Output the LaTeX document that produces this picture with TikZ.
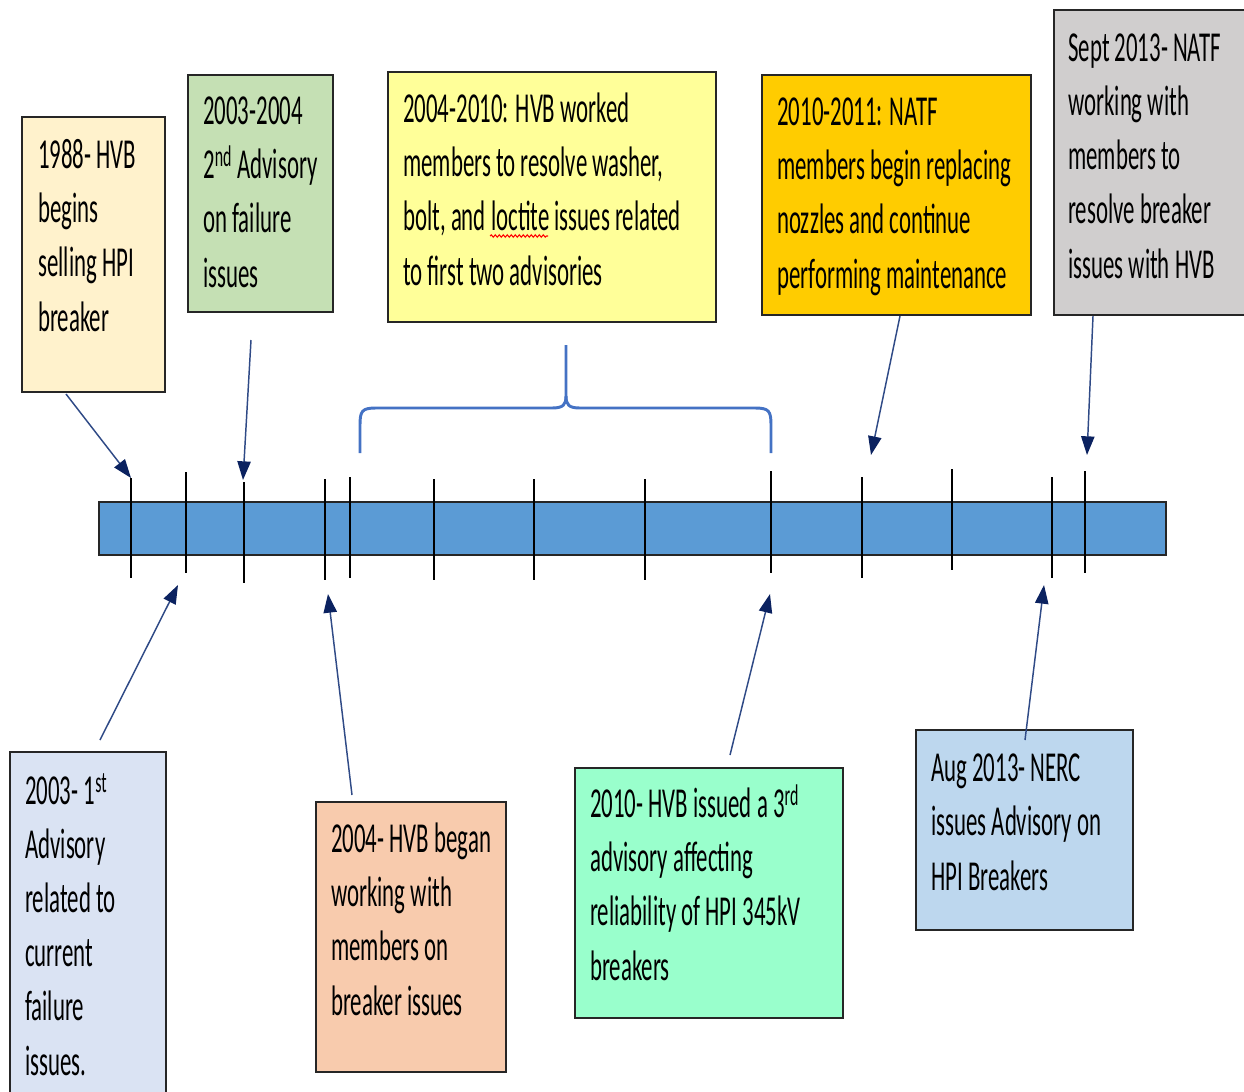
\documentclass[tikz,border=0pt]{standalone}
\usepackage{fontspec}
\newfontfamily\calf[FakeStretch=0.535]{Carlito}
\usetikzlibrary{arrows.meta,decorations.pathmorphing,fit}
\definecolor{barblue}{HTML}{5B9BD5}
\definecolor{bracecol}{HTML}{4472C4}
\definecolor{arrcol}{HTML}{2F4A86}
\definecolor{headcol}{HTML}{0B2260}
\definecolor{cA}{HTML}{FFF2CC}
\definecolor{cB}{HTML}{C5E0B4}
\definecolor{cC}{HTML}{FFFF99}
\definecolor{cD}{HTML}{FFCC00}
\definecolor{cE}{HTML}{D0CECE}
\definecolor{cF}{HTML}{DAE3F3}
\definecolor{cG}{HTML}{F8CBAD}
\definecolor{cH}{HTML}{99FFCC}
\definecolor{cI}{HTML}{BDD7EE}
\tikzset{
  evbox/.style={draw=black!85, line width=1.5pt, inner sep=0pt, rectangle},
  evtext/.style={inner sep=0pt, anchor=base west, align=left, text=black,
     font=\calf\fontsize{32}{40.6}\selectfont},
  tickline/.style={line width=1.9pt, black},
  evarrow/.style={draw=arrcol, line width=1.1pt,
     -{Triangle[length=14pt,width=10pt,fill=headcol,color=headcol]}},
  bracepath/.style={draw=bracecol, line width=2.2pt, line join=round}
}
\begin{document}
\begin{tikzpicture}[x=0.75pt,y=-0.75pt]
\useasboundingbox (0,0) rectangle (1244,1091);
\clip (0,0) rectangle (1244,1091);

% timeline bar
\node (bar) [evbox, fill=barblue, fit={(99,502) (1166,555)}] {};

% ticks
\foreach \x/\t/\b [count=\i] in {131/478/578, 186/472/573, 244/482/583, 325/479/580,
   350/477/578, 434/479/580, 534/479/580, 645/479/580, 771/471/573, 862/477/578,
   952/469/570, 1052/477/578, 1085/471/573}{
  \coordinate (t\i top) at (\x,\t);
  \coordinate (t\i bot) at (\x,\b);
  \draw[tickline] (t\i top) -- (t\i bot);
}

% boxes
\node (b1988) [evbox, fill=cA, fit={(22,117) (165,392)}] {};
\node (b0304) [evbox, fill=cB, fit={(188,75) (333,312)}] {};
\node (b0410) [evbox, fill=cC, fit={(388,72) (716,322)}] {};
\node (b1011) [evbox, fill=cD, fit={(762,75) (1031,315)}] {};
\node (bsep)  [evbox, fill=cE, fit={(1054,10) (1260,315)}] {};
\node (b2003) [evbox, fill=cF, fit={(10,752) (166,1110)}] {};
\node (b2004) [evbox, fill=cG, fit={(316,802) (506,1072)}] {};
\node (b2010) [evbox, fill=cH, fit={(575,768) (843,1018)}] {};
\node (baug)  [evbox, fill=cI, fit={(916,730) (1133,930)}] {};

% texts (anchored at the baseline of the last line)
\node (x1988) [evtext] at (38,331) {1988- HVB\\begins\\selling HPI\\breaker};
\node (x0304) [evtext] at (203,287) {2003-2004\\2\textsuperscript{nd} Advisory\\on failure\\issues};
\node (x0410) [evtext] at (403,285) {2004-2010: HVB worked\\members to resolve washer,\\bolt, and loctite issues related\\to first two advisories};
\node (x1011) [evtext] at (777,288) {2010-2011: NATF\\members begin replacing\\nozzles and continue\\performing maintenance};
\node (xsep)  [evtext] at (1068,278) {Sept 2013- NATF\\working with\\members to\\resolve breaker\\issues with HVB};
\node (x2003) [evtext] at (25,1075) {2003- 1\textsuperscript{st}\\Advisory\\related to\\current\\failure\\issues.};
\node (x2004) [evtext] at (331,1015) {2004- HVB began\\working with\\members on\\breaker issues};
\node (x2010) [evtext] at (590,980) {2010- HVB issued a 3\textsuperscript{rd}\\advisory affecting\\reliability of HPI 345kV\\breakers};
\node (xaug)  [evtext] at (931,890) {Aug 2013- NERC\\issues Advisory on\\HPI Breakers};

% spelling mark under "loctite"
\coordinate (sq1) at (490,236);
\coordinate (sq2) at (548,236);
\draw[red, line width=0.8pt, decorate, decoration={snake, amplitude=0.9pt, segment length=3pt}] (sq1) -- (sq2);

% brace
\coordinate (brL) at (360,453);
\coordinate (brR) at (771,453);
\coordinate (brM) at (566,345);
\draw[bracepath] (brL) -- (360,425) .. controls (360,411) and (362,408) .. (376,408)
   -- (552,408) .. controls (563,408) and (566,405) .. (566,396) -- (brM);
\draw[bracepath] (brR) -- (771,425) .. controls (771,411) and (769,408) .. (755,408)
   -- (580,408) .. controls (569,408) and (566,405) .. (566,396);

% arrows
\coordinate (a1s) at (66,394);   \coordinate (a1e) at (131,478);
\coordinate (a2s) at (251,340);  \coordinate (a2e) at (243,480);
\coordinate (a3s) at (100,740);  \coordinate (a3e) at (178,585);
\coordinate (a4s) at (352,795);  \coordinate (a4e) at (328,594);
\coordinate (a5s) at (730,755);  \coordinate (a5e) at (770,594);
\coordinate (a6s) at (900,316);  \coordinate (a6e) at (871,455);
\coordinate (a7s) at (1093,316); \coordinate (a7e) at (1087,455);
\coordinate (a8s) at (1025,740); \coordinate (a8e) at (1044,585);
\foreach \i in {1,...,8}{ \draw[evarrow] (a\i s) -- (a\i e); }
\end{tikzpicture}
\end{document}
